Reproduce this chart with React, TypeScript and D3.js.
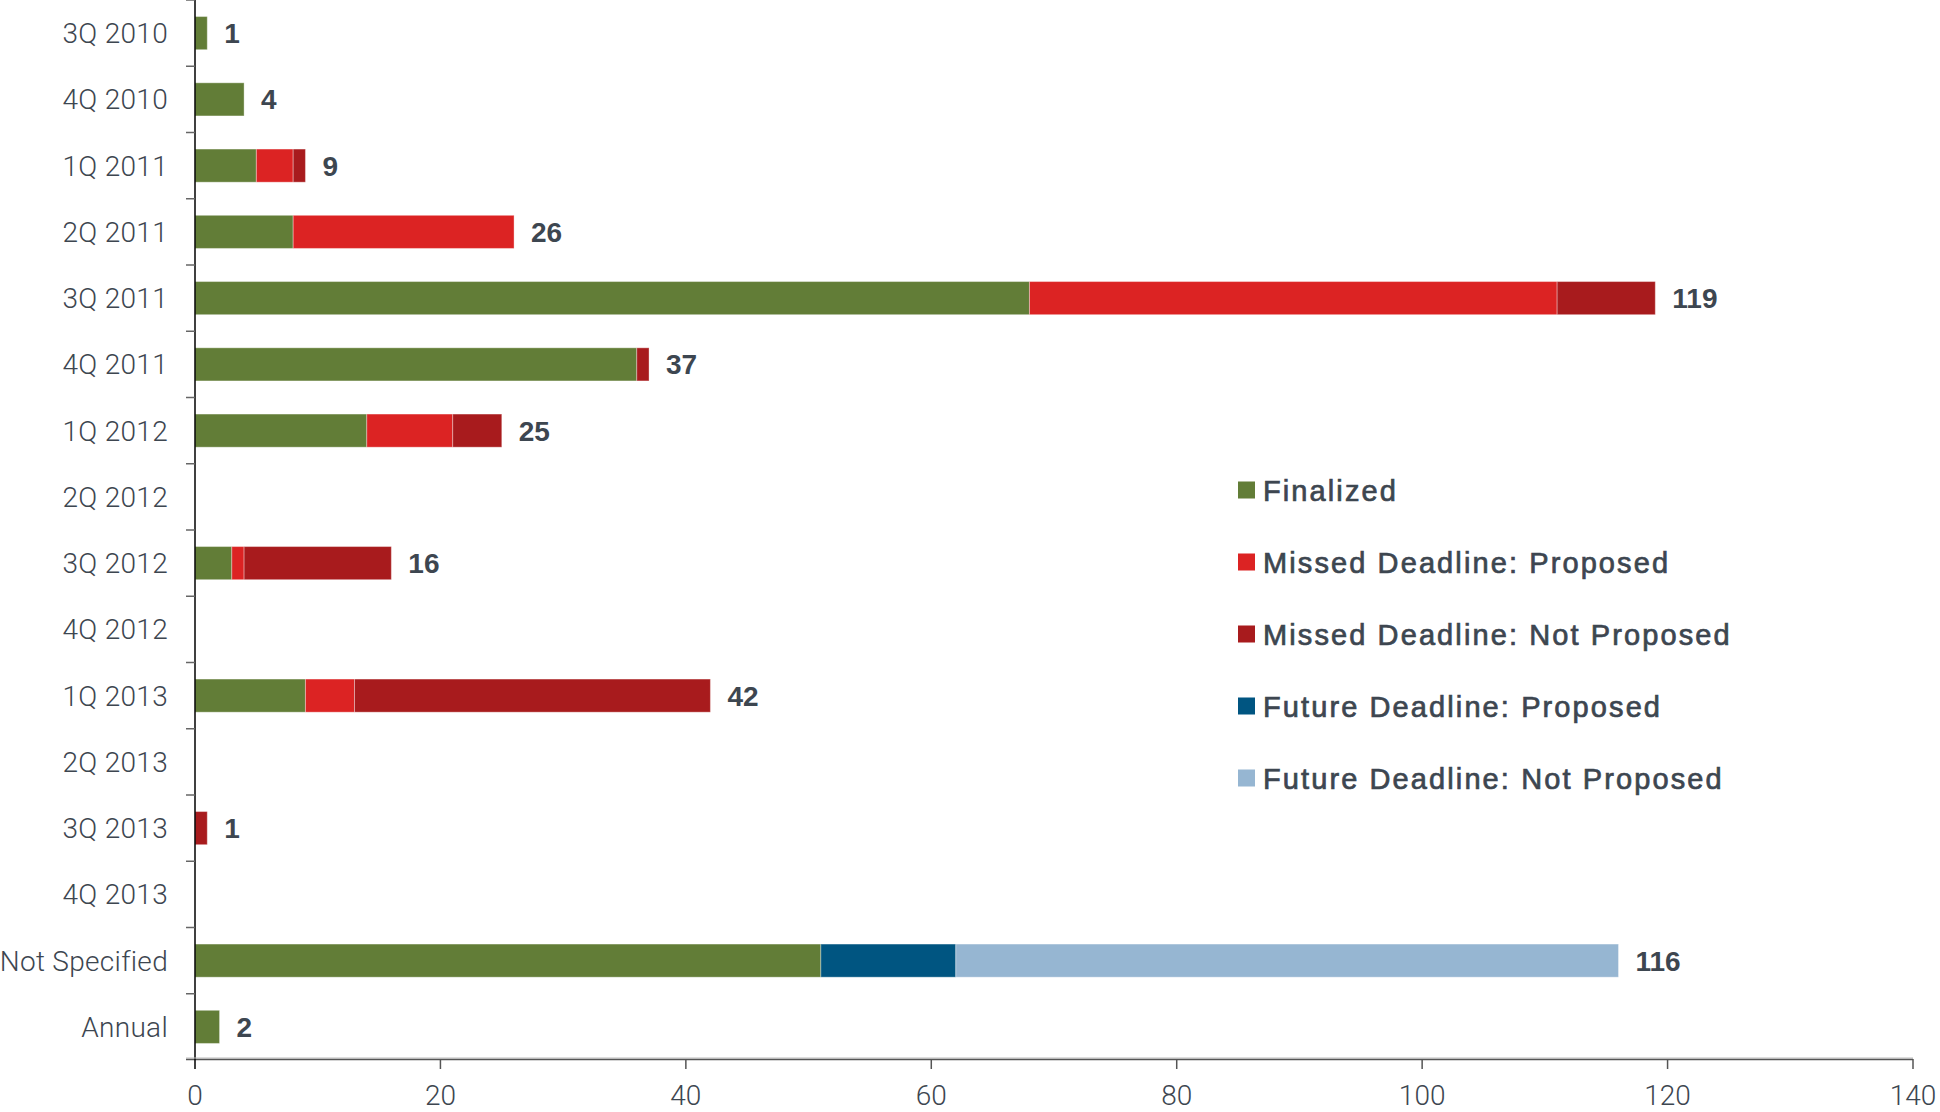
import React, { useEffect, useRef } from "react";
import * as d3 from "d3";

const categories = [
  "3Q 2010", "4Q 2010", "1Q 2011", "2Q 2011", "3Q 2011", "4Q 2011",
  "1Q 2012", "2Q 2012", "3Q 2012", "4Q 2012", "1Q 2013", "2Q 2013",
  "3Q 2013", "4Q 2013", "Not Specified", "Annual",
];
const seriesNames = [
  "Finalized",
  "Missed Deadline: Proposed",
  "Missed Deadline: Not Proposed",
  "Future Deadline: Proposed",
  "Future Deadline: Not Proposed",
];
const seriesColors = ["#627d37", "#dc2323", "#a81b1d", "#005581", "#96b6d2"];
const finalized = [1, 4, 5, 8, 68, 36, 14, 0, 3, 0, 9, 0, 0, 0, 51, 2];
const missedProposed = [0, 0, 3, 18, 43, 0, 7, 0, 1, 0, 4, 0, 0, 0, 0, 0];
const missedNotProposed = [0, 0, 1, 0, 8, 1, 4, 0, 12, 0, 29, 0, 1, 0, 0, 0];
const futureProposed = [0, 0, 0, 0, 0, 0, 0, 0, 0, 0, 0, 0, 0, 0, 11, 0];
const futureNotProposed = [0, 0, 0, 0, 0, 0, 0, 0, 0, 0, 0, 0, 0, 0, 54, 0];
const xTicks = [0, 20, 40, 60, 80, 100, 120, 140];

const W = 1940;
const H = 1112;

export default function App() {
  const ref = useRef<SVGSVGElement>(null);
  useEffect(() => {
    const svg = d3.select(ref.current);
    svg.selectAll("*").remove();
    const seriesVals = [finalized, missedProposed, missedNotProposed, futureProposed, futureNotProposed];
    const rows = categories.map((c, i) => {
      const r: any = { cat: c };
      seriesNames.forEach((s, k) => (r[s] = seriesVals[k][i]));
      return r;
    });
    const stack = d3.stack<any>().keys(seriesNames)(rows);
    const x = d3.scaleLinear().domain([0, 140]).range([195, 1913]);
    const y = d3.scaleBand<string>().domain(categories).range([0, 1060]).paddingInner(0.5).paddingOuter(0.25);
    const yb = d3.scaleBand<string>().domain(categories).range([0, 1060]);
    const textColor = "#3d4650";

    // bars
    stack.forEach((layer, k) => {
      svg.append("g")
        .selectAll("rect")
        .data(layer.filter((d) => d[1] - d[0] > 0))
        .join("rect")
        .attr("x", (d) => x(d[0]))
        .attr("width", (d) => x(d[1]) - x(d[0]))
        .attr("y", (d) => y(d.data.cat)!)
        .attr("height", y.bandwidth())
        .attr("fill", seriesColors[k])
        .attr("stroke", "rgba(255,255,255,0.35)")
        .attr("stroke-width", 1);
    });

    // value labels
    svg.append("g")
      .selectAll("text")
      .data(rows.map((r, i) => ({ cat: r.cat, total: seriesVals.reduce((a, s) => a + s[i], 0) })).filter((d) => d.total > 0))
      .join("text")
      .attr("x", (d) => x(d.total) + 17)
      .attr("y", (d) => y(d.cat)! + y.bandwidth() / 2 + 10)
      .attr("font-family", "'Liberation Sans', Arial, sans-serif")
      .attr("font-weight", 700)
      .attr("font-size", 28)
      .attr("fill", textColor)
      .text((d) => d.total);

    // y axis
    svg.append("line")
      .attr("x1", 195).attr("x2", 195).attr("y1", 0).attr("y2", 1060)
      .attr("stroke", "#000").attr("stroke-width", 1.5);
    svg.append("g")
      .selectAll("line")
      .data(categories)
      .join("line")
      .attr("x1", 186).attr("x2", 195)
      .attr("y1", (d) => yb(d)!).attr("y2", (d) => yb(d)!)
      .attr("stroke", "#666").attr("stroke-width", 1.5);
    svg.append("g")
      .selectAll("text")
      .data(categories)
      .join("text")
      .attr("x", 168)
      .attr("y", (d) => yb(d)! + yb.bandwidth() / 2 + 10)
      .attr("text-anchor", "end")
      .attr("font-family", "Roboto, 'Liberation Sans', sans-serif")
      .attr("font-weight", 300)
      .attr("font-size", 28)
      .attr("letter-spacing", 0.3)
      .attr("fill", textColor)
      .text((d) => d);

    // x axis
    svg.append("line")
      .attr("x1", 186).attr("x2", 1913).attr("y1", 1058).attr("y2", 1058)
      .attr("stroke", "#bbb").attr("stroke-width", 1);
    svg.append("line")
      .attr("x1", 186).attr("x2", 1913).attr("y1", 1059.5).attr("y2", 1059.5)
      .attr("stroke", "#555").attr("stroke-width", 1.5);
    svg.append("g")
      .selectAll("line")
      .data(xTicks)
      .join("line")
      .attr("x1", (d) => x(d)).attr("x2", (d) => x(d))
      .attr("y1", 1059).attr("y2", 1069)
      .attr("stroke", (d) => (d === 0 ? "#000" : "#555")).attr("stroke-width", 1.5);
    svg.append("g")
      .selectAll("text")
      .data(xTicks)
      .join("text")
      .attr("x", (d) => x(d))
      .attr("y", 1105)
      .attr("text-anchor", "middle")
      .attr("font-family", "Roboto, 'Liberation Sans', sans-serif")
      .attr("font-weight", 300)
      .attr("font-size", 28)
      .attr("fill", textColor)
      .text((d) => d);

    // legend
    const lg = svg.append("g").attr("transform", "translate(1238,490)");
    seriesNames.forEach((s, k) => {
      const g = lg.append("g").attr("transform", `translate(0,${k * 72})`);
      g.append("rect").attr("x", 0).attr("y", -8.5).attr("width", 17).attr("height", 17).attr("fill", seriesColors[k]);
      g.append("text")
        .attr("x", 25)
        .attr("y", 10.5)
        .attr("font-family", "'Liberation Sans', Arial, sans-serif")
        .attr("font-weight", 400)
        .attr("font-size", 29)
        .attr("letter-spacing", 2.1)
        .attr("fill", textColor)
        .attr("stroke", textColor)
        .attr("stroke-width", 0.7)
        .text(s);
    });
  }, []);
  return (
    <svg
      ref={ref}
      width={W}
      height={H}
      style={{ position: "absolute", left: 0, top: 0, background: "#fff" }}
    />
  );
}
